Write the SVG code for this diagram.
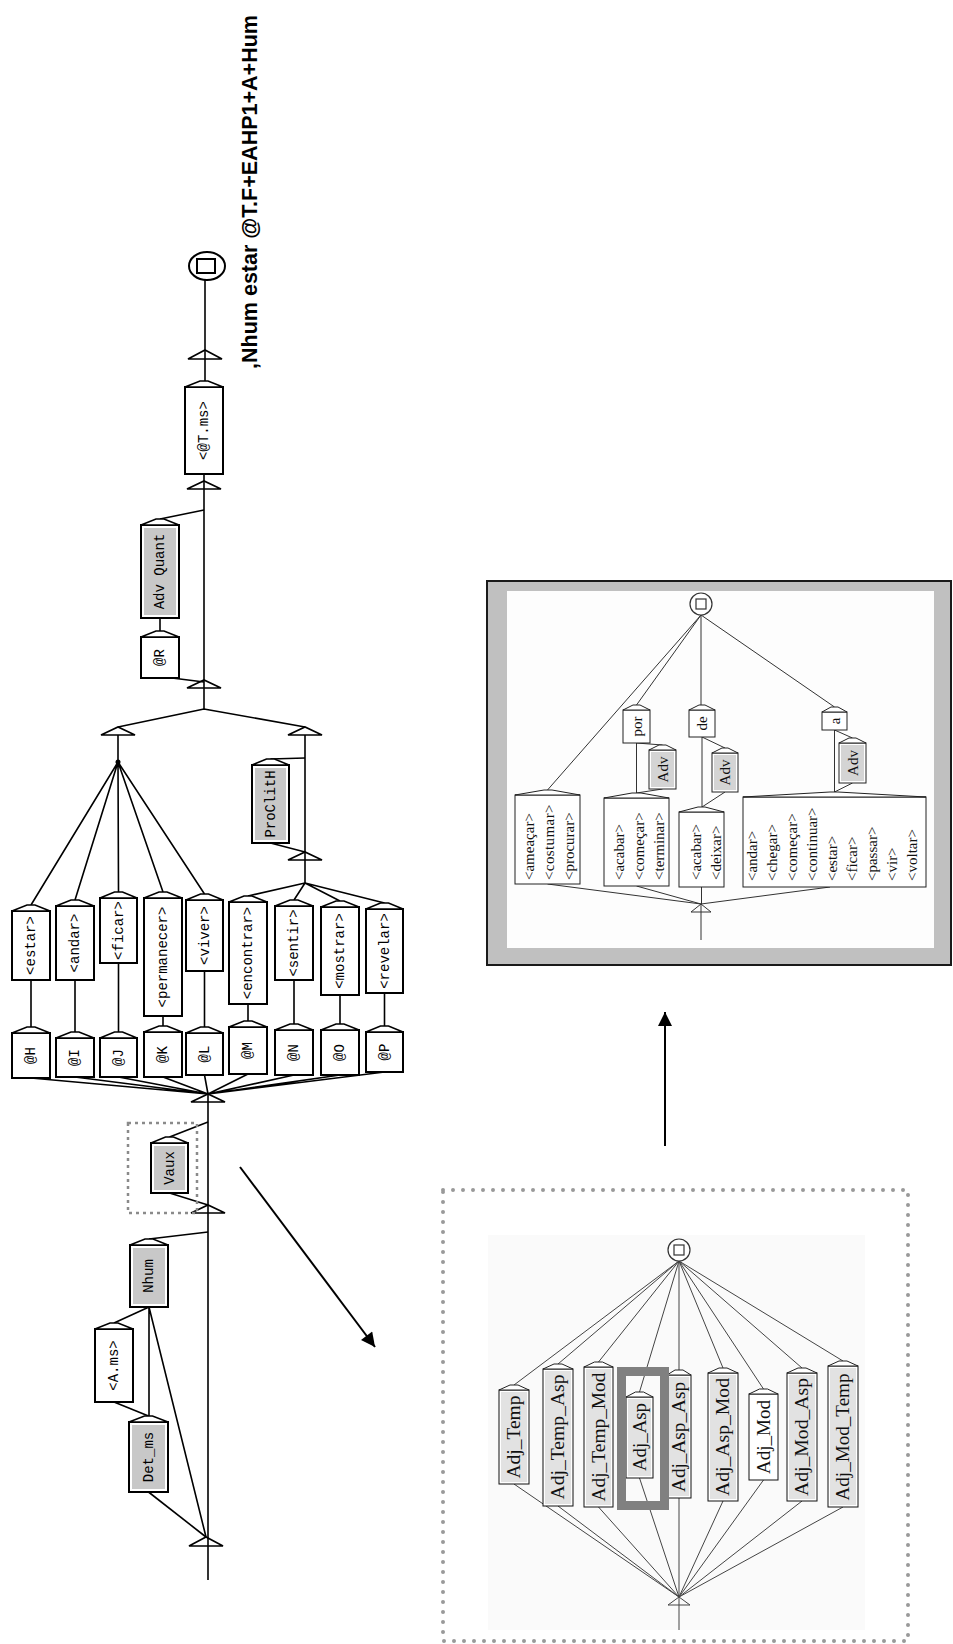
<svg xmlns="http://www.w3.org/2000/svg" width="953" height="1644" viewBox="0 0 953 1644">
  <defs>
    <style>
      .ln{fill:none;stroke:#000;stroke-width:1.6}
      .bx{fill:#fff;stroke:#000;stroke-width:2}
      .gr{fill:#c8c8c8;stroke:none}
      .roof{fill:#fff;stroke:#000;stroke-width:1.6}
      .tri{fill:none;stroke:#000;stroke-width:1.6}
      .m{font-family:"Liberation Mono","DejaVu Sans Mono",monospace;font-size:14px;text-anchor:middle;dominant-baseline:central;fill:#000}
      .fl{fill:none;stroke:#333;stroke-width:1}
      .fbx{fill:#fff;stroke:#222;stroke-width:1}
      .froof{fill:#fff;stroke:#222;stroke-width:1}
      .fgr{fill:#d4d4d4;stroke:none}
      .ft{font-family:"Liberation Serif","Times New Roman",serif;font-size:15px;fill:#111}
      .fc{font-family:"Liberation Serif","Times New Roman",serif;font-size:15px;fill:#111;text-anchor:middle;dominant-baseline:central}
      .al{fill:none;stroke:#444;stroke-width:1}
      .abx{fill:#fff;stroke:#111;stroke-width:1}
      .agr{fill:#e2e2e2;stroke:none}
      .at{font-family:"Liberation Serif","Times New Roman",serif;font-size:18px;fill:#111;text-anchor:middle;dominant-baseline:central}
      .arrow{fill:none;stroke:#000;stroke-width:2}
    </style>
    <marker id="ah" viewBox="0 0 10 10" refX="10" refY="5" markerWidth="8" markerHeight="7" orient="auto" markerUnits="strokeWidth">
      <path d="M0,0 L10,5 L0,10 z" fill="#000"/>
    </marker>
  </defs>
  <rect width="953" height="1644" fill="#fff"/>

  <!-- title of the main graph -->
  <text id="title" transform="translate(257 369) rotate(-90)" font-family="'Liberation Sans',Arial,sans-serif" font-weight="bold" font-size="22" textLength="354" lengthAdjust="spacingAndGlyphs">,Nhum estar @T.F+EAHP1+A+Hum</text>

  <!-- ===== main graph: connectors ===== -->
  <g id="main-connectors">
    <path class="ln" d="M205,280 V381"/>
    <path class="ln" d="M204,474 V709"/>
    <path class="ln" d="M204,510 L160,519"/>
    <path class="ln" d="M160,618 V631"/>
    <path class="ln" d="M172,678 L204,682"/>
    <path class="ln" d="M204,709 L118,727 M204,709 L305,727"/>
    <path class="ln" d="M118,735 V762"/>
    <path class="ln" d="M118,762 L31,905 M118,762 L75,900 M118,762 L118.5,892 M118,762 L163,892 M118,762 L204.5,894"/>
    <circle cx="118" cy="762" r="2.5" fill="#000"/>
    <path class="ln" d="M305,735 V883"/>
    <path class="ln" d="M305,758 L270.5,759"/>
    <path class="ln" d="M270.5,843 L305,852"/>
    <path class="ln" d="M305,883 L248,896 M305,883 L294,900 M305,883 L340,901 M305,883 L384.5,903"/>
    <path class="ln" d="M31,980 V1027 M75,980 V1032 M118.5,963 V1032 M163,1016 V1026 M204.5,971 V1027 M248,1004 V1021 M294,980 V1024 M340,995 V1024 M384.5,993 V1026"/>
    <path class="ln" d="M31,1078 L208,1094 M75,1077 L208,1094 M118.5,1077 L208,1094 M163,1077 L208,1094 M204.5,1075 L208,1094 M248,1074 L208,1094 M294,1075 L208,1094 M340,1075 L208,1094 M384.5,1072 L208,1094"/>
    <path class="ln" d="M208,1094 V1580"/>
    <path class="ln" d="M208,1122 L169.5,1137"/>
    <path class="ln" d="M169.5,1193 L208,1205"/>
    <path class="ln" d="M208,1232 L149,1239"/>
    <path class="ln" d="M149,1307 L114,1323 M149,1307 V1416 M149,1307 L206,1537"/>
    <path class="ln" d="M114,1402 L148.5,1416"/>
    <path class="ln" d="M148.5,1492 L206,1537"/>
    <!-- junction triangles -->
    <path class="tri" d="M188,359 L205,350 L222,359 Z"/>
    <path class="tri" d="M187,489 L204,481 L221,489 Z"/>
    <path class="tri" d="M187,688 L204,680 L221,688 Z"/>
    <path class="tri" d="M101,735 L118,727 L135,735 Z"/>
    <path class="tri" d="M288,735 L305,727 L322,735 Z"/>
    <path class="tri" d="M288,860 L305,852 L322,860 Z"/>
    <path class="tri" d="M191,1102 L208,1094 L225,1102 Z"/>
    <path class="tri" d="M191,1213 L208,1205 L225,1213 Z"/>
    <path class="tri" d="M189,1546 L206,1537 L223,1546 Z"/>
  </g>

  <!-- final state -->
  <g id="end-state">
    <ellipse cx="207" cy="266" rx="18" ry="14" fill="#fff" stroke="#000" stroke-width="2"/>
    <rect x="197" y="259" width="18" height="14" fill="#fff" stroke="#000" stroke-width="2"/>
  </g>

  <!-- ===== main graph: boxes ===== -->
  <g id="n-tms"><rect class="bx" x="185" y="387" width="38" height="87"/><polygon class="roof" points="185,387 200,381 208,381 223,387"/><text class="m" transform="translate(204 430.5) rotate(-90)">&lt;@T.ms&gt;</text></g>
  <g id="n-advquant"><rect class="bx" x="141" y="525" width="38" height="93"/><rect class="gr" x="144" y="528" width="32" height="87"/><polygon class="roof" points="141,525 156,519 164,519 179,525"/><text class="m" transform="translate(160 571.5) rotate(-90)">Adv Quant</text></g>
  <g id="n-r"><rect class="bx" x="141" y="637" width="38" height="41"/><polygon class="roof" points="141,637 156,631 164,631 179,637"/><text class="m" transform="translate(160 657.5) rotate(-90)">@R</text></g>
  <g id="n-proclith"><rect class="bx" x="252" y="765" width="37" height="78"/><rect class="gr" x="255" y="768" width="31" height="72"/><polygon class="roof" points="252,765 266.5,759 274.5,759 289,765"/><text class="m" transform="translate(270.5 804) rotate(-90)">ProClitH</text></g>

  <g id="n-estar"><rect class="bx" x="12" y="911" width="38" height="69"/><polygon class="roof" points="12,911 27,905 35,905 50,911"/><text class="m" transform="translate(31 945.5) rotate(-90)">&lt;estar&gt;</text></g>
  <g id="n-andar"><rect class="bx" x="56" y="906" width="38" height="74"/><polygon class="roof" points="56,906 71,900 79,900 94,906"/><text class="m" transform="translate(75 943) rotate(-90)">&lt;andar&gt;</text></g>
  <g id="n-ficar"><rect class="bx" x="100" y="898" width="37" height="65"/><polygon class="roof" points="100,898 114.5,892 122.5,892 137,898"/><text class="m" transform="translate(118.5 930.5) rotate(-90)">&lt;ficar&gt;</text></g>
  <g id="n-permanecer"><rect class="bx" x="144" y="898" width="38" height="118"/><polygon class="roof" points="144,898 159,892 167,892 182,898"/><text class="m" transform="translate(163 957) rotate(-90)">&lt;permanecer&gt;</text></g>
  <g id="n-viver"><rect class="bx" x="186" y="900" width="37" height="71"/><polygon class="roof" points="186,900 200.5,894 208.5,894 223,900"/><text class="m" transform="translate(204.5 935.5) rotate(-90)">&lt;viver&gt;</text></g>
  <g id="n-encontrar"><rect class="bx" x="229" y="902" width="38" height="102"/><polygon class="roof" points="229,902 244,896 252,896 267,902"/><text class="m" transform="translate(248 953) rotate(-90)">&lt;encontrar&gt;</text></g>
  <g id="n-sentir"><rect class="bx" x="275" y="906" width="38" height="74"/><polygon class="roof" points="275,906 290,900 298,900 313,906"/><text class="m" transform="translate(294 943) rotate(-90)">&lt;sentir&gt;</text></g>
  <g id="n-mostrar"><rect class="bx" x="321" y="907" width="38" height="88"/><polygon class="roof" points="321,907 336,901 344,901 359,907"/><text class="m" transform="translate(340 951) rotate(-90)">&lt;mostrar&gt;</text></g>
  <g id="n-revelar"><rect class="bx" x="366" y="909" width="37" height="84"/><polygon class="roof" points="366,909 380.5,903 388.5,903 403,909"/><text class="m" transform="translate(384.5 951) rotate(-90)">&lt;revelar&gt;</text></g>

  <g id="n-h"><rect class="bx" x="12" y="1033" width="38" height="45"/><polygon class="roof" points="12,1033 27,1027 35,1027 50,1033"/><text class="m" transform="translate(31 1055.5) rotate(-90)">@H</text></g>
  <g id="n-i"><rect class="bx" x="56" y="1038" width="38" height="39"/><polygon class="roof" points="56,1038 71,1032 79,1032 94,1038"/><text class="m" transform="translate(75 1057.5) rotate(-90)">@I</text></g>
  <g id="n-j"><rect class="bx" x="100" y="1038" width="37" height="39"/><polygon class="roof" points="100,1038 114.5,1032 122.5,1032 137,1038"/><text class="m" transform="translate(118.5 1057.5) rotate(-90)">@J</text></g>
  <g id="n-k"><rect class="bx" x="144" y="1032" width="38" height="45"/><polygon class="roof" points="144,1032 159,1026 167,1026 182,1032"/><text class="m" transform="translate(163 1054.5) rotate(-90)">@K</text></g>
  <g id="n-l"><rect class="bx" x="186" y="1033" width="37" height="42"/><polygon class="roof" points="186,1033 200.5,1027 208.5,1027 223,1033"/><text class="m" transform="translate(204.5 1054) rotate(-90)">@L</text></g>
  <g id="n-m"><rect class="bx" x="229" y="1027" width="38" height="47"/><polygon class="roof" points="229,1027 244,1021 252,1021 267,1027"/><text class="m" transform="translate(248 1050.5) rotate(-90)">@M</text></g>
  <g id="n-n"><rect class="bx" x="275" y="1030" width="38" height="45"/><polygon class="roof" points="275,1030 290,1024 298,1024 313,1030"/><text class="m" transform="translate(294 1052.5) rotate(-90)">@N</text></g>
  <g id="n-o"><rect class="bx" x="321" y="1030" width="38" height="45"/><polygon class="roof" points="321,1030 336,1024 344,1024 359,1030"/><text class="m" transform="translate(340 1052.5) rotate(-90)">@O</text></g>
  <g id="n-p"><rect class="bx" x="366" y="1032" width="37" height="40"/><polygon class="roof" points="366,1032 380.5,1026 388.5,1026 403,1032"/><text class="m" transform="translate(384.5 1052) rotate(-90)">@P</text></g>

  <g id="n-vaux">
    <rect x="128" y="1123" width="69" height="90" fill="none" stroke="#8a8a8a" stroke-width="2.5" stroke-dasharray="3 4"/>
    <rect class="bx" x="151" y="1143" width="37" height="50"/><rect class="gr" x="154" y="1146" width="31" height="44"/><polygon class="roof" points="151,1143 165.5,1137 173.5,1137 188,1143"/><text class="m" transform="translate(169.5 1168) rotate(-90)">Vaux</text>
  </g>
  <g id="n-nhum"><rect class="bx" x="130" y="1245" width="38" height="62"/><rect class="gr" x="133" y="1248" width="32" height="56"/><polygon class="roof" points="130,1245 145,1239 153,1239 168,1245"/><text class="m" transform="translate(149 1276) rotate(-90)">Nhum</text></g>
  <g id="n-ams"><rect class="bx" x="95" y="1329" width="38" height="73"/><polygon class="roof" points="95,1329 110,1323 118,1323 133,1329"/><text class="m" transform="translate(114 1365.5) rotate(-90)">&lt;A.ms&gt;</text></g>
  <g id="n-detms"><rect class="bx" x="129" y="1422" width="39" height="70"/><rect class="gr" x="132" y="1425" width="33" height="64"/><polygon class="roof" points="129,1422 144.5,1416 152.5,1416 168,1422"/><text class="m" transform="translate(148.5 1457) rotate(-90)">Det_ms</text></g>

  <!-- ===== pointer arrows ===== -->
  <g id="pointers">
    <line class="arrow" x1="240" y1="1167" x2="375" y2="1347" marker-end="url(#ah)"/>
    <line class="arrow" x1="665" y1="1146" x2="665" y2="1012" marker-end="url(#ah)"/>
  </g>

  <!-- ===== framed sub-graph (Vaux) ===== -->
  <g id="vaux-frame">
    <rect x="487" y="581" width="464" height="384" fill="#c0c0c0" stroke="#1a1a1a" stroke-width="2"/>
    <rect x="507" y="591" width="427" height="357" fill="#fdfdfd"/>
  </g>
  <g id="vaux-connectors">
    <path class="fl" d="M701,615 L547.5,790 M701,615 L636.5,705 M701,615 V705 M701,615 L834.5,707"/>
    <path class="fl" d="M636.5,743 V793 M636.5,743 L662.5,745 M662.5,789 L636.5,793"/>
    <path class="fl" d="M702,737 V807 M702,737 L725,748 M725,792 L702,807"/>
    <path class="fl" d="M834.5,730 V792 M834.5,730 L852.5,738 M852.5,783 L834.5,792"/>
    <path class="fl" d="M547.5,884 L701,904 M636.5,886 L701,904 M701.5,887 V904 M830,887 L701,904"/>
    <path class="fl" d="M701,904 V940"/>
    <path class="fl" d="M691,912 L701,904 L711,912 Z"/>
  </g>
  <g id="vaux-end">
    <circle cx="701" cy="604" r="11" fill="#fff" stroke="#333" stroke-width="1.2"/>
    <rect x="696" y="599" width="10" height="10" fill="#fff" stroke="#333" stroke-width="1.2"/>
  </g>
  <g id="v-por"><rect class="fbx" x="623" y="710" width="27" height="33"/><polygon class="froof" points="623,710 633,705 640,705 650,710"/><text class="fc" transform="translate(636.5 726.5) rotate(-90)">por</text></g>
  <g id="v-de"><rect class="fbx" x="689" y="710" width="26" height="27"/><polygon class="froof" points="689,710 699,705 705,705 715,710"/><text class="fc" transform="translate(702 723.5) rotate(-90)">de</text></g>
  <g id="v-a"><rect class="fbx" x="822" y="712" width="25" height="18"/><polygon class="froof" points="822,712 831,707 838,707 847,712"/><text class="fc" transform="translate(834.5 721) rotate(-90)">a</text></g>
  <g id="v-adv1"><rect class="fbx" x="649" y="750" width="27" height="39"/><rect class="fgr" x="651" y="752" width="23" height="35"/><polygon class="froof" points="649,750 659,745 666,745 676,750"/><text class="fc" transform="translate(662.5 769.5) rotate(-90)">Adv</text></g>
  <g id="v-adv2"><rect class="fbx" x="712" y="753" width="26" height="39"/><rect class="fgr" x="714" y="755" width="22" height="35"/><polygon class="froof" points="712,753 722,748 728,748 738,753"/><text class="fc" transform="translate(725 772.5) rotate(-90)">Adv</text></g>
  <g id="v-adv3"><rect class="fbx" x="839" y="743" width="27" height="40"/><rect class="fgr" x="841" y="745" width="23" height="36"/><polygon class="froof" points="839,743 849,738 856,738 866,743"/><text class="fc" transform="translate(852.5 763) rotate(-90)">Adv</text></g>
  <g id="v-list1">
    <rect class="fbx" x="515" y="795" width="65" height="89"/><polygon class="froof" points="515,795 544,790 552,790 580,795"/>
    <text class="ft" transform="translate(534 880) rotate(-90)">&lt;ameaçar&gt;</text>
    <text class="ft" transform="translate(554 880) rotate(-90)" letter-spacing="0.4">&lt;costumar&gt;</text>
    <text class="ft" transform="translate(574 880) rotate(-90)">&lt;procurar&gt;</text>
  </g>
  <g id="v-list2">
    <rect class="fbx" x="604" y="798" width="65" height="88"/><polygon class="froof" points="604,798 632,793 641,793 669,798"/>
    <text class="ft" transform="translate(624 880) rotate(-90)">&lt;acabar&gt;</text>
    <text class="ft" transform="translate(644 880) rotate(-90)">&lt;começar&gt;</text>
    <text class="ft" transform="translate(664 880) rotate(-90)">&lt;terminar&gt;</text>
  </g>
  <g id="v-list3">
    <rect class="fbx" x="679" y="812" width="45" height="75"/><polygon class="froof" points="679,812 698,807 705,807 724,812"/>
    <text class="ft" transform="translate(701 880) rotate(-90)">&lt;acabar&gt;</text>
    <text class="ft" transform="translate(721 880) rotate(-90)">&lt;deixar&gt;</text>
  </g>
  <g id="v-list4">
    <rect class="fbx" x="743" y="797" width="183" height="90"/><polygon class="froof" points="743,797 830,792 838,792 926,797"/>
    <text class="ft" transform="translate(757 881) rotate(-90)">&lt;andar&gt;</text>
    <text class="ft" transform="translate(777 881) rotate(-90)">&lt;chegar&gt;</text>
    <text class="ft" transform="translate(797 881) rotate(-90)">&lt;começar&gt;</text>
    <text class="ft" transform="translate(817 881) rotate(-90)">&lt;continuar&gt;</text>
    <text class="ft" transform="translate(837 881) rotate(-90)">&lt;estar&gt;</text>
    <text class="ft" transform="translate(857 881) rotate(-90)">&lt;ficar&gt;</text>
    <text class="ft" transform="translate(877 881) rotate(-90)">&lt;passar&gt;</text>
    <text class="ft" transform="translate(897 881) rotate(-90)">&lt;vir&gt;</text>
    <text class="ft" transform="translate(917 881) rotate(-90)">&lt;voltar&gt;</text>
  </g>

  <!-- ===== dotted sub-graph (adjective classes) ===== -->
  <g id="adj-frame">
    <rect x="488" y="1235" width="377" height="395" fill="#fafafa"/>
    <rect x="443" y="1190" width="465" height="451" fill="none" stroke="#999" stroke-width="4" stroke-dasharray="0 10" stroke-linecap="round"/>
  </g>
  <g id="adj-connectors">
    <path class="al" d="M679,1261 L514,1385 M679,1261 L558,1364 M679,1261 L598.5,1362 M679,1261 L639.5,1392 M679,1261 V1370 M679,1261 L723,1368 M679,1261 L763.5,1389 M679,1261 L802,1368 M679,1261 L843,1361"/>
    <path class="al" d="M514,1484 L679,1597 M558,1506 L679,1597 M598.5,1507 L679,1597 M639.5,1478 L679,1597 M679,1498 V1597 M723,1501 L679,1597 M763.5,1480 L679,1597 M802,1501 L679,1597 M843,1507 L679,1597"/>
    <path class="al" d="M679,1597 V1630"/>
    <path class="al" d="M668,1605 L679,1597 L690,1605 Z"/>
  </g>
  <g id="adj-end">
    <circle cx="679" cy="1250" r="11" fill="#fff" stroke="#333" stroke-width="1.2"/>
    <rect x="674" y="1245" width="10" height="10" fill="#fff" stroke="#333" stroke-width="1.2"/>
  </g>
  <g id="a-temp"><rect class="abx" x="499" y="1390" width="30" height="94"/><rect class="agr" x="501" y="1392" width="26" height="90"/><polygon class="froof" points="499,1390 510,1385 518,1385 529,1390"/><text class="at" transform="translate(514 1437) rotate(-90)" textLength="83" lengthAdjust="spacingAndGlyphs">Adj_Temp</text></g>
  <g id="a-temp-asp"><rect class="abx" x="543" y="1369" width="30" height="137"/><rect class="agr" x="545" y="1371" width="26" height="133"/><polygon class="froof" points="543,1369 554,1364 562,1364 573,1369"/><text class="at" transform="translate(558 1437) rotate(-90)" textLength="125" lengthAdjust="spacingAndGlyphs">Adj_Temp_Asp</text></g>
  <g id="a-temp-mod"><rect class="abx" x="584" y="1367" width="29" height="140"/><rect class="agr" x="586" y="1369" width="25" height="136"/><polygon class="froof" points="584,1367 594.5,1362 602.5,1362 613,1367"/><text class="at" transform="translate(598.5 1437) rotate(-90)" textLength="129" lengthAdjust="spacingAndGlyphs">Adj_Temp_Mod</text></g>
  <g id="a-asp"><rect class="abx" x="626" y="1397" width="27" height="81"/><rect class="agr" x="628" y="1399" width="23" height="77"/><polygon class="froof" points="626,1397 635.5,1392 643.5,1392 653,1397"/><text class="at" transform="translate(639.5 1437) rotate(-90)" textLength="68" lengthAdjust="spacingAndGlyphs">Adj_Asp</text></g>
  <g id="a-asp-asp"><rect class="abx" x="667" y="1375" width="24" height="123"/><rect class="agr" x="669" y="1377" width="20" height="119"/><polygon class="froof" points="667,1375 675,1370 683,1370 691,1375"/><text class="at" transform="translate(679 1437) rotate(-90)" textLength="110" lengthAdjust="spacingAndGlyphs">Adj_Asp_Asp</text></g>
  <g id="a-asp-mod"><rect class="abx" x="708" y="1373" width="30" height="128"/><rect class="agr" x="710" y="1375" width="26" height="124"/><polygon class="froof" points="708,1373 719,1368 727,1368 738,1373"/><text class="at" transform="translate(723 1437) rotate(-90)" textLength="118" lengthAdjust="spacingAndGlyphs">Adj_Asp_Mod</text></g>
  <g id="a-mod"><rect class="abx" x="749" y="1394" width="29" height="86"/><polygon class="froof" points="749,1394 759.5,1389 767.5,1389 778,1394"/><text class="at" transform="translate(763.5 1437) rotate(-90)" textLength="74" lengthAdjust="spacingAndGlyphs">Adj_Mod</text></g>
  <g id="a-mod-asp"><rect class="abx" x="787" y="1373" width="30" height="128"/><rect class="agr" x="789" y="1375" width="26" height="124"/><polygon class="froof" points="787,1373 798,1368 806,1368 817,1373"/><text class="at" transform="translate(802 1437) rotate(-90)" textLength="118" lengthAdjust="spacingAndGlyphs">Adj_Mod_Asp</text></g>
  <g id="a-mod-temp"><rect class="abx" x="828" y="1366" width="30" height="141"/><rect class="agr" x="830" y="1368" width="26" height="137"/><polygon class="froof" points="828,1366 839,1361 847,1361 858,1366"/><text class="at" transform="translate(843 1437) rotate(-90)" textLength="127" lengthAdjust="spacingAndGlyphs">Adj_Mod_Temp</text></g>
  <!-- highlight round the Adj_Asp box -->
  <rect id="adj-asp-highlight" x="621.5" y="1371.5" width="43" height="134" fill="none" stroke="#808080" stroke-width="9"/>
</svg>
